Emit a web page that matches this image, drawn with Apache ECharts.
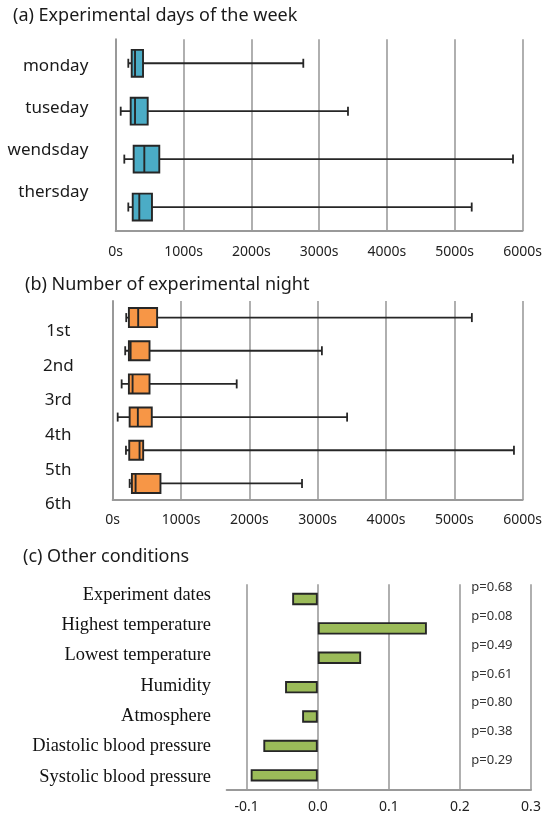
<!DOCTYPE html>
<html>
<head>
<meta charset="utf-8">
<script src="https://cdn.jsdelivr.net/npm/echarts@6/dist/echarts.min.js"></script>
<style>
html,body{margin:0;padding:0;background:#fff;}
#chart{width:545px;height:814px;}
</style>
</head>
<body>
<div id="chart"></div>
<script>
// ---------- data ----------
var titles = ['(a) Experimental days of the week', '(b) Number of experimental night', '(c) Other conditions'];

var dayCategories = ['monday', 'tuseday', 'wendsday', 'thersday'];
var dayLow    = [186, 74, 127, 186];
var dayQ1     = [236, 221, 265, 251];
var dayMedian = [285, 285, 422, 348];
var dayQ3     = [403, 472, 643, 535];
var dayHigh   = [2767, 3426, 5860, 5251];

var nightCategories = ['1st', '2nd', '3rd', '4th', '5th', '6th'];
var nightLow    = [198, 183, 131, 73, 194, 248];
var nightQ1     = [237, 237, 237, 248, 242, 281];
var nightMedian = [373, 262, 291, 368, 393, 335];
var nightQ3     = [650, 539, 539, 572, 446, 699];
var nightHigh   = [5257, 3062, 1815, 3431, 5873, 2771];

var timeTicks = [0, 1000, 2000, 3000, 4000, 5000, 6000];

var conditions = ['Experiment dates', 'Highest temperature', 'Lowest temperature', 'Humidity', 'Atmosphere', 'Diastolic blood pressure', 'Systolic blood pressure'];
var corrValues = [-0.036, 0.1535, 0.061, -0.046, -0.022, -0.0766, -0.0944];
var pLabels = ['p=0.68', 'p=0.08', 'p=0.49', 'p=0.61', 'p=0.80', 'p=0.38', 'p=0.29'];
var corrTicks = [-0.1, 0.0, 0.1, 0.2, 0.3];

// ---------- helpers ----------
function boxData(low, q1, med, q3, high) {
  return low.map(function (v, i) { return [i, low[i], q1[i], med[i], q3[i], high[i]]; });
}
function boxRender(color, ratio, capHalf) {
  return function (params, api) {
    var cat = api.value(0);
    var pl = api.coord([api.value(1), cat]);
    var p1 = api.coord([api.value(2), cat]);
    var pm = api.coord([api.value(3), cat]);
    var p3 = api.coord([api.value(4), cat]);
    var ph = api.coord([api.value(5), cat]);
    var band = api.size([0, 1])[1];
    var h = band * ratio;
    var y = pl[1];
    var ls = { stroke: '#262626', lineWidth: 1.8 };
    return {
      type: 'group',
      children: [
        { type: 'line', shape: { x1: pl[0], y1: y, x2: ph[0], y2: y }, style: ls },
        { type: 'line', shape: { x1: pl[0], y1: y - capHalf, x2: pl[0], y2: y + capHalf }, style: ls },
        { type: 'line', shape: { x1: ph[0], y1: y - capHalf, x2: ph[0], y2: y + capHalf }, style: ls },
        { type: 'rect', shape: { x: p1[0], y: y - h / 2, width: p3[0] - p1[0], height: h }, style: { fill: color, stroke: '#262626', lineWidth: 1.9 } },
        { type: 'line', shape: { x1: pm[0], y1: y - h / 2, x2: pm[0], y2: y + h / 2 }, style: { stroke: '#262626', lineWidth: 1.9 } }
      ]
    };
  };
}

var SANS = '"Noto Sans", "DejaVu Sans", sans-serif';
var SERIF = '"Liberation Serif", "DejaVu Serif", serif';
var gridColor = '#9c9c9c';

function timeXAxis(gridIndex, margin) {
  return {
    type: 'value', gridIndex: gridIndex, min: timeTicks[0], max: timeTicks[timeTicks.length - 1], interval: 1000,
    axisLine: { show: true, lineStyle: { color: '#999', width: 2 } },
    axisTick: { show: false },
    splitLine: { show: true, lineStyle: { color: gridColor, width: 1.6 } },
    axisLabel: { formatter: function (v) { return String(v) + 's'; }, fontFamily: SANS, fontSize: 14, color: '#222', margin: margin }
  };
}
function hiddenX(gridIndex) {
  return { type: 'value', gridIndex: gridIndex, show: false };
}
function labelY(gridIndex, data, opts) {
  return Object.assign({
    type: 'category', gridIndex: gridIndex, data: data, inverse: true,
    axisLine: { show: false }, axisTick: { show: false }, splitLine: { show: false }
  }, opts);
}
var titleStyle = { fontFamily: SANS, fontSize: 18, fontWeight: 'normal', color: '#1a1a1a', lineHeight: 22 };

var option = {
  animation: false,
  backgroundColor: '#ffffff',
  title: [
    { text: titles[0], left: 13, top: 5, padding: 0, textStyle: titleStyle },
    { text: titles[1], left: 25, top: 274, padding: 0, textStyle: titleStyle },
    { text: titles[2], left: 23, top: 546, padding: 0, textStyle: titleStyle }
  ],
  grid: [
    { left: 115.7, right: 22.5, top: 39.3, height: 191.7 },   // 0 box plot a
    { left: 115.7, width: 10, top: 45.8, height: 166.7 },      // 1 labels a
    { left: 112.7, right: 20.3, top: 301, height: 199 },       // 2 box plot b
    { left: 112.7, width: 10, top: 313.7, height: 208 },       // 3 labels b
    { left: 246.7, right: 14, top: 584.3, height: 205.7 },     // 4 bars c
    { left: 246.7, width: 10, top: 579.9, height: 212 },       // 5 labels c
    { left: 471.3, width: 60, top: 573.4, height: 201 },       // 6 p labels c
    { left: 226.7, right: 14, top: 584.3, height: 205.7 }      // 7 bottom line c
  ],
  xAxis: [
    timeXAxis(0, 14),
    hiddenX(1),
    timeXAxis(2, 13),
    hiddenX(3),
    {
      type: 'value', gridIndex: 4, min: corrTicks[0], max: corrTicks[corrTicks.length - 1], interval: 0.1,
      axisLine: { show: false }, axisTick: { show: false },
      splitLine: { show: true, lineStyle: { color: gridColor, width: 1.6 } },
      axisLabel: { formatter: function (v) { return v.toFixed(1); }, fontFamily: SANS, fontSize: 14, color: '#222', margin: 10 }
    },
    hiddenX(5),
    hiddenX(6),
    {
      type: 'value', gridIndex: 7, min: 0, max: 1,
      axisLine: { show: true, onZero: false, lineStyle: { color: '#999', width: 2 } },
      axisTick: { show: false }, axisLabel: { show: false }, splitLine: { show: false }
    }
  ],
  yAxis: [
    { type: 'category', gridIndex: 0, data: dayCategories, inverse: true,
      axisLine: { show: true, lineStyle: { color: '#999', width: 2 } }, axisTick: { show: false },
      axisLabel: { show: false }, splitLine: { show: false } },
    labelY(1, dayCategories, { axisLabel: { fontFamily: SANS, fontSize: 17, color: '#1a1a1a', margin: 27.4 } }),
    { type: 'category', gridIndex: 2, data: nightCategories, inverse: true,
      axisLine: { show: true, lineStyle: { color: '#999', width: 2 } }, axisTick: { show: false },
      axisLabel: { show: false }, splitLine: { show: false } },
    labelY(3, nightCategories, { axisLabel: { fontFamily: SANS, fontSize: 17, color: '#1a1a1a', margin: 54.4, align: 'center' } }),
    { type: 'category', gridIndex: 4, data: conditions, inverse: true,
      axisLine: { show: false }, axisTick: { show: false }, axisLabel: { show: false }, splitLine: { show: false } },
    labelY(5, conditions, { axisLabel: { fontFamily: SERIF, fontSize: 18.4, color: '#111', margin: 35.7 } }),
    labelY(6, pLabels, { axisLabel: { inside: true, margin: 0, fontFamily: SANS, fontSize: 13, color: '#333' } }),
    { type: 'value', gridIndex: 7, show: false }
  ],
  series: [
    {
      type: 'custom', xAxisIndex: 0, yAxisIndex: 0,
      renderItem: boxRender('#4BACC6', 0.56, 4.5),
      encode: { y: 0, x: [1, 2, 3, 4, 5] },
      data: boxData(dayLow, dayQ1, dayMedian, dayQ3, dayHigh)
    },
    {
      type: 'custom', xAxisIndex: 2, yAxisIndex: 2,
      renderItem: boxRender('#F79646', 0.575, 4.5),
      encode: { y: 0, x: [1, 2, 3, 4, 5] },
      data: boxData(nightLow, nightQ1, nightMedian, nightQ3, nightHigh)
    },
    {
      type: 'bar', xAxisIndex: 4, yAxisIndex: 4,
      data: corrValues, barWidth: '42%',
      itemStyle: { color: '#9BBB59', borderColor: '#262626', borderWidth: 1.9 }
    }
  ]
};

var chart = echarts.init(document.getElementById('chart'), null, { renderer: 'canvas' });
chart.setOption(option);
</script>
</body>
</html>
